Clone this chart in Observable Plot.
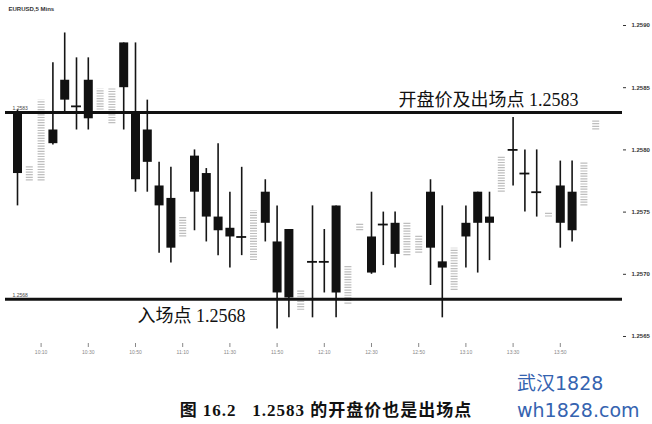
<!DOCTYPE html>
<html>
<head>
<meta charset="utf-8">
<script src="https://cdn.jsdelivr.net/npm/d3@7"></script>
<script src="https://cdn.jsdelivr.net/npm/@observablehq/plot@0.6"></script>
<style>
  html, body { margin: 0; padding: 0; background: #fff; }
  #wrap { position: relative; width: 652px; height: 424px; overflow: hidden; }
  #caption {
    position: absolute; left: 0; top: 396px; width: 652px; text-align: center;
    font: bold 17px "Liberation Serif", "Noto Sans CJK SC", serif; letter-spacing: 1px; color: #111;
  }
  .mark {
    position: absolute; left: 517px; color: #3563b0;
    font: 19px "DejaVu Sans", "Noto Sans CJK SC", sans-serif; line-height: 20px; white-space: nowrap;
  }
</style>
</head>
<body>
<div id="wrap">
  <div id="chart"></div>
  <div id="caption">图 16.2&nbsp;&nbsp;&nbsp;1.2583 的开盘价也是出场点</div>
  <div class="mark" style="top:373px">武汉1828</div>
  <div class="mark" style="top:400px">wh1828.com</div>
</div>
<script>
// EURUSD 5-minute candles, oldest first
const opens  = [1.25830,1.25775,1.25775,1.25816,1.25856,1.25835,1.25856,1.25832,1.25821,1.25886,
                1.25829,1.25816,1.25771,1.25761,1.25730,1.25795,1.25781,1.25746,1.25737,1.25730,
                1.25711,1.25766,1.25726,1.25736,1.25671,1.25710,1.25710,1.25755,1.25676,1.25735,
                1.25730,1.25740,1.25741,1.25715,1.25717,1.25766,1.25710,1.25687,1.25741,1.25766,
                1.25746,1.25766,1.25800,1.25781,1.25766,1.25746,1.25771,1.25766,1.25755,1.25816];
const highs  = [1.25832,1.25787,1.25840,1.25870,1.25894,1.25874,1.25874,1.25849,1.25849,1.25886,
                1.25886,1.25840,1.25790,1.25786,1.25746,1.25800,1.25785,1.25805,1.25766,1.25786,
                1.25751,1.25776,1.25755,1.25736,1.25687,1.25755,1.25736,1.25755,1.25707,1.25741,
                1.25766,1.25750,1.25750,1.25741,1.25731,1.25776,1.25755,1.25721,1.25755,1.25766,
                1.25766,1.25795,1.25826,1.25800,1.25800,1.25750,1.25791,1.25791,1.25790,1.25824];
const lows   = [1.25755,1.25775,1.25775,1.25804,1.25830,1.25816,1.25816,1.25832,1.25821,1.25816,
                1.25766,1.25766,1.25717,1.25709,1.25730,1.25735,1.25726,1.25715,1.25705,1.25715,
                1.25711,1.25726,1.25656,1.25665,1.25671,1.25665,1.25685,1.25665,1.25676,1.25735,
                1.25700,1.25707,1.25705,1.25715,1.25717,1.25691,1.25665,1.25687,1.25705,1.25701,
                1.25711,1.25766,1.25771,1.25750,1.25746,1.25746,1.25721,1.25726,1.25755,1.25816];
const closes = [1.25781,1.25787,1.25840,1.25805,1.25840,1.25835,1.25825,1.25849,1.25849,1.25850,
                1.25776,1.25790,1.25755,1.25721,1.25746,1.25766,1.25746,1.25735,1.25730,1.25730,
                1.25751,1.25741,1.25685,1.25681,1.25687,1.25710,1.25710,1.25685,1.25707,1.25741,
                1.25701,1.25740,1.25716,1.25741,1.25731,1.25721,1.25705,1.25721,1.25730,1.25741,
                1.25741,1.25795,1.25800,1.25781,1.25766,1.25750,1.25741,1.25735,1.25790,1.25824];

// time axis: one label every four bars
const timeTickBars = [2, 6, 10, 14, 18, 22, 26, 30, 34, 38, 42, 46];
const timeTickLabels = ["10:10","10:30","10:50","11:10","11:30","11:50","12:10","12:30","12:50","13:10","13:30","13:50"];
const priceTicks = [1.2565, 1.2570, 1.2575, 1.2580, 1.2585, 1.2590];

// trade levels
const exitLevel = 1.2583;
const entryLevel = 1.2568;
const exitText = "开盘价及出场点";
const entryText = "入场点";
const symbolTitle = "EURUSD,5 Mins";

const bars = opens.map((o, i) => ({
  i, open: o, high: highs[i], low: lows[i], close: closes[i],
  kind: closes[i] < o ? "down" : closes[i] > o ? "up" : "flat"
}));
const down = bars.filter(d => d.kind === "down");
const up = bars.filter(d => d.kind === "up");
const flat = bars.filter(d => d.kind === "flat");
const tickLabelOf = new Map(timeTickBars.map((b, k) => [b, timeTickLabels[k]]));
const fmt = d3.format(".4f");

const chart = Plot.plot({
  width: 652,
  height: 372,
  marginLeft: 0,
  marginRight: 30,
  marginTop: 0,
  marginBottom: 29,
  style: { fontFamily: "'Liberation Sans', 'Noto Sans CJK SC', sans-serif", background: "#fff", color: "#111" },
  x: { domain: [-1.44068, 51.2712], label: null },
  y: { domain: [1.2564437, 1.259201], label: null },
  marks: [
    // rising bars: pale, speckled hollow bodies
    Plot.ruleX(up, { x: "i", y1: "open", y2: "close", stroke: "#a8a8a8", strokeWidth: 7, strokeDasharray: "1.2,1.4", strokeOpacity: 0.75 }),
    // wicks of falling and unchanged bars
    Plot.ruleX(down.concat(flat), { x: "i", y1: "low", y2: "high", stroke: "#151515", strokeWidth: 1.6 }),
    // falling bars: solid bodies
    Plot.ruleX(down, { x: "i", y1: "open", y2: "close", stroke: "#111", strokeWidth: 9 }),
    // unchanged bars: cross bar
    Plot.ruleY(flat, { y: "close", x1: d => d.i - 0.42, x2: d => d.i + 0.42, stroke: "#111", strokeWidth: 1.8 }),
    // trade level lines
    Plot.ruleY([exitLevel, entryLevel], { stroke: "#111", strokeWidth: 3, insetLeft: 5 }),
    Plot.text([exitLevel], { y: d => d, text: d => `${exitText} ${fmt(d)}`, frameAnchor: "right", textAnchor: "end",
      dx: -44, dy: -12, fontSize: 18, fontFamily: "'Liberation Serif', 'Noto Sans CJK SC', serif", fill: "#111" }),
    Plot.text([entryLevel], { y: d => d, text: d => `${entryText} ${fmt(d)}`, frameAnchor: "left", textAnchor: "start",
      dx: 137, dy: 17, fontSize: 18, fontFamily: "'Liberation Serif', 'Noto Sans CJK SC', serif", fill: "#111" }),
    // small level tags at the left edge
    Plot.text([exitLevel, entryLevel], { y: d => d, text: d => fmt(d), frameAnchor: "left", textAnchor: "start",
      dx: 12, dy: -4, fontSize: 5, fill: "#444" }),
    // symbol title
    Plot.text([symbolTitle], { frameAnchor: "top-left", dx: 8, dy: 6, fontSize: 6, fill: "#333", fontWeight: "bold" }),
    // axes
    Plot.axisY(priceTicks, { anchor: "right", label: null, tickFormat: fmt, tickSize: 3, tickPadding: 6, fontSize: 6, fontWeight: "bold", color: "#333" }),
    Plot.axisX(timeTickBars, { label: null, tickFormat: d => tickLabelOf.get(d), tickSize: 4, tickPadding: 3, fontSize: 5, color: "#888" })
  ]
});
document.getElementById("chart").appendChild(chart);
</script>
</body>
</html>
